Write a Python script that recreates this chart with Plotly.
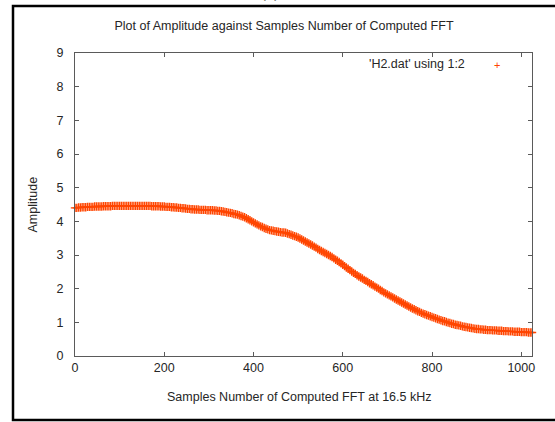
import plotly.graph_objects as go

# ---- data ----
sample_step = 4
amplitude = [
    4.40,4.40,4.41,4.41,4.42,4.42,4.42,4.43,4.43,4.43,4.43,4.44,4.44,4.44,4.44,4.44,
    4.45,4.45,4.45,4.45,4.45,4.46,4.46,4.46,4.46,4.46,4.46,4.46,4.46,4.46,4.46,4.46,
    4.46,4.46,4.46,4.46,4.46,4.46,4.46,4.46,4.46,4.46,4.46,4.45,4.45,4.45,4.45,4.45,
    4.44,4.44,4.44,4.43,4.43,4.43,4.42,4.42,4.41,4.41,4.40,4.40,4.39,4.39,4.38,4.37,
    4.37,4.36,4.36,4.35,4.35,4.35,4.34,4.34,4.34,4.34,4.33,4.33,4.33,4.33,4.32,4.32,
    4.31,4.31,4.30,4.29,4.28,4.27,4.26,4.25,4.24,4.22,4.21,4.20,4.18,4.16,4.14,4.12,
    4.09,4.06,4.03,4.00,3.97,3.94,3.91,3.88,3.85,3.83,3.80,3.78,3.76,3.74,3.73,3.72,
    3.71,3.70,3.69,3.68,3.67,3.67,3.66,3.64,3.62,3.60,3.58,3.56,3.54,3.52,3.49,3.46,
    3.43,3.40,3.37,3.34,3.31,3.28,3.25,3.22,3.18,3.15,3.12,3.09,3.06,3.03,3.00,2.97,
    2.94,2.90,2.86,2.83,2.79,2.75,2.71,2.67,2.63,2.59,2.55,2.51,2.47,2.44,2.40,2.36,
    2.33,2.30,2.26,2.23,2.20,2.16,2.13,2.10,2.06,2.03,2.00,1.96,1.93,1.89,1.86,1.83,
    1.80,1.77,1.74,1.71,1.68,1.65,1.62,1.59,1.56,1.53,1.50,1.47,1.44,1.41,1.39,1.36,
    1.33,1.31,1.28,1.26,1.24,1.22,1.20,1.18,1.16,1.14,1.12,1.10,1.08,1.06,1.04,1.03,
    1.01,0.99,0.98,0.96,0.95,0.93,0.92,0.91,0.90,0.88,0.87,0.86,0.85,0.84,0.83,0.82,
    0.81,0.80,0.80,0.79,0.79,0.78,0.78,0.77,0.77,0.77,0.76,0.76,0.76,0.75,0.75,0.75,
    0.74,0.74,0.74,0.73,0.73,0.73,0.72,0.72,0.72,0.72,0.71,0.71,0.71,0.71,0.70,0.70,
    0.70,
]
samples = [i * sample_step for i in range(len(amplitude))]

x_ticks = [0, 200, 400, 600, 800, 1000]
y_ticks = [0, 1, 2, 3, 4, 5, 6, 7, 8, 9]

title_text = "Plot of Amplitude against Samples Number of Computed FFT"
x_title = "Samples Number of Computed FFT at 16.5 kHz"
y_title = "Amplitude"
legend_text = "'H2.dat' using 1:2"

COLOR = "#ff4500"
FONT = "Liberation Sans, Arial, sans-serif"
TXT = "#262626"

fig = go.Figure()
fig.add_trace(go.Scatter(
    x=samples, y=amplitude, mode="markers",
    marker=dict(symbol="cross-thin", size=6, line=dict(color=COLOR, width=1.4)),
    cliponaxis=False, showlegend=False, hoverinfo="skip",
))

W, H = 555, 422
L, R, T, B = 75, 23, 53, 66
pw, ph = W - L - R, H - T - B


def px(xp):
    return (xp - L) / pw


def py(yp):
    return (H - B - yp) / ph


axis_common = dict(
    showline=True, linecolor="#5a5a5a", linewidth=1, mirror="ticks",
    ticks="inside", ticklen=4, tickcolor="#5a5a5a", tickwidth=1,
    showgrid=False, zeroline=False,
    tickfont=dict(family=FONT, size=12.5, color=TXT),
)

fig.update_layout(
    width=W, height=H,
    margin=dict(l=L, r=R, t=T, b=B),
    paper_bgcolor="white", plot_bgcolor="white",
    xaxis=dict(range=[0, 1024], tickvals=x_ticks, automargin=False, **axis_common),
    yaxis=dict(range=[0, 9], tickvals=y_ticks, ticklabelstandoff=8, automargin=False, **axis_common),
    title=dict(text=title_text, x=284 / W, xanchor="center", y=1 - 26 / H, yanchor="middle",
               font=dict(family=FONT, size=12.5, color=TXT)),
    showlegend=False,
)

annos = [
    dict(text=x_title, x=0.49, y=py(397), xref="paper", yref="paper",
         showarrow=False, xanchor="center", yanchor="middle",
         font=dict(family=FONT, size=12.5, color=TXT)),
    dict(text=y_title, x=px(32), y=0.5, xref="paper", yref="paper", textangle=-90,
         showarrow=False, xanchor="center", yanchor="middle",
         font=dict(family=FONT, size=12.5, color=TXT)),
    dict(text=legend_text, x=px(467), y=py(64), xref="paper", yref="paper",
         showarrow=False, xanchor="right", yanchor="middle",
         font=dict(family=FONT, size=12.5, color=TXT)),
    dict(text="+", x=px(497), y=py(65), xref="paper", yref="paper",
         showarrow=False, xanchor="center", yanchor="middle",
         font=dict(family=FONT, size=11, color=COLOR)),
    dict(text="(c)", x=px(270), y=py(4), xref="paper", yref="paper",
         showarrow=False, xanchor="center", yanchor="bottom",
         font=dict(family="Liberation Serif, serif", size=18, color="black")),
]
fig.update_layout(annotations=annos)

fig.add_shape(type="rect", xref="paper", yref="paper",
              x0=px(13), x1=px(570), y0=py(420), y1=py(6),
              line=dict(color="black", width=2.5), fillcolor="rgba(0,0,0,0)", layer="above")

fig.write_html(
    "out.html",
    config={"displayModeBar": False},
    post_script="document.body.style.margin='0';document.body.style.overflow='hidden';",
)
